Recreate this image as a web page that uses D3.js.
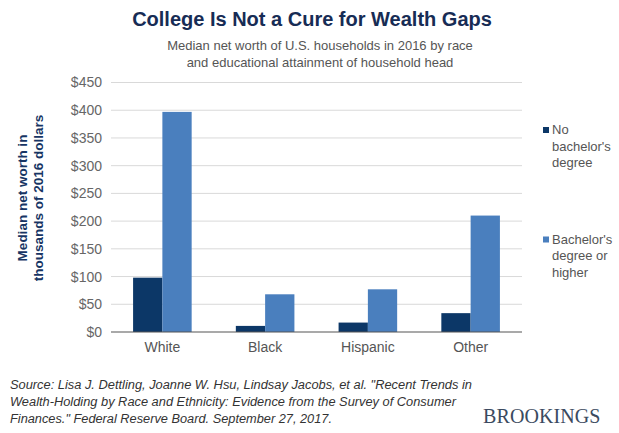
<!DOCTYPE html>
<html>
<head>
<meta charset="utf-8">
<script src="https://cdn.jsdelivr.net/npm/d3@7"></script>
<style>
  html, body { margin: 0; padding: 0; background: #fff; }
  svg { display: block; }
</style>
</head>
<body>
<svg id="chart" width="619" height="433"></svg>
<script>
// ---- data ----
const categories = ["White", "Black", "Hispanic", "Other"];
const seriesNames = ["No bachelor's degree", "Bachelor's degree or higher"];
const noBachelor = [98, 11, 17, 34];
const bachelorOrHigher = [397, 68, 77, 210];
const yTicks = [0, 50, 100, 150, 200, 250, 300, 350, 400, 450];
const legendLines = [["No", "bachelor's", "degree"], ["Bachelor's", "degree or", "higher"]];
const sourceLines = [
  "Source: Lisa J. Dettling, Joanne W. Hsu, Lindsay Jacobs, et al. \"Recent Trends in",
  "Wealth-Holding by Race and Ethnicity: Evidence from the Survey of Consumer",
  "Finances.\" Federal Reserve Board. September 27, 2017."
];

const colors = ["#0c3767", "#4a7fbe"];
const svg = d3.select("#chart");
const plot = { left: 111, right: 522, top: 82.5, bottom: 332 };

const x0 = d3.scaleBand().domain(categories).range([plot.left, plot.right]).paddingInner(0.43).paddingOuter(0.215);
const x1 = d3.scaleBand().domain([0, 1]).range([0, x0.bandwidth()]);
const y = d3.scaleLinear().domain([0, 450]).range([plot.bottom, plot.top]);

// title
svg.append("text").attr("x", 312).attr("y", 26).attr("text-anchor", "middle")
  .attr("font-family", "Liberation Sans, Arial, sans-serif").attr("font-weight", "bold")
  .attr("font-size", 20).attr("fill", "#172c55").text("College Is Not a Cure for Wealth Gaps");

const sub = ["Median net worth of U.S. households in 2016 by race", "and educational attainment of household head"];
sub.forEach((s, i) => {
  svg.append("text").attr("x", 320).attr("y", 50 + i * 17).attr("text-anchor", "middle")
    .attr("font-family", "Liberation Sans, Arial, sans-serif").attr("font-size", 13)
    .attr("fill", "#555").text(s);
});

// gridlines
svg.append("g").selectAll("line").data(yTicks.filter(d => d > 0)).join("line")
  .attr("x1", plot.left).attr("x2", plot.right)
  .attr("y1", d => y(d)).attr("y2", d => y(d))
  .attr("stroke", "#d9d9d9").attr("stroke-width", 1);

// y axis tick labels
const yAxis = d3.axisLeft(y).tickValues(yTicks).tickSize(0).tickPadding(9).tickFormat(d => "$" + d);
const gy = svg.append("g").attr("transform", `translate(${plot.left},0)`).call(yAxis);
gy.select(".domain").remove();
gy.selectAll("text").attr("font-family", "Liberation Sans, Arial, sans-serif")
  .attr("font-size", 14).attr("fill", "#666");

// bars
const groups = svg.append("g").selectAll("g").data(categories).join("g")
  .attr("transform", d => `translate(${x0(d)},0)`);
groups.selectAll("rect").data((d, i) => [noBachelor[i], bachelorOrHigher[i]]).join("rect")
  .attr("x", (d, j) => x1(j)).attr("width", x1.bandwidth())
  .attr("y", d => y(d)).attr("height", d => y(0) - y(d))
  .attr("fill", (d, j) => colors[j]);

// baseline
svg.append("line").attr("x1", plot.left).attr("x2", plot.right)
  .attr("y1", y(0)).attr("y2", y(0)).attr("stroke", "#555").attr("stroke-width", 1.2);

// x axis labels
const xAxis = d3.axisBottom(x0).tickSize(0).tickPadding(10);
const gx = svg.append("g").attr("transform", `translate(0,${plot.bottom})`).call(xAxis);
gx.select(".domain").remove();
gx.selectAll("text").attr("font-family", "Liberation Sans, Arial, sans-serif")
  .attr("font-size", 14).attr("fill", "#555");

// y axis title
["Median net worth in", "thousands of 2016 dollars"].forEach((s, i) => {
  svg.append("text").attr("transform", `translate(${27 + i * 16},198) rotate(-90)`)
    .attr("font-family", "Liberation Sans, Arial, sans-serif").attr("font-weight", "bold")
    .attr("font-size", 13.5).attr("fill", "#173564").attr("text-anchor", "middle").text(s);
});

// legend
const legendY = [134, 243.5];
legendLines.forEach((lines, k) => {
  svg.append("rect").attr("x", 543).attr("y", legendY[k] - 7).attr("width", 6).attr("height", 6).attr("fill", colors[k]);
  lines.forEach((s, i) => {
    svg.append("text").attr("x", 552).attr("y", legendY[k] + i * 16.5)
      .attr("font-family", "Liberation Sans, Arial, sans-serif").attr("font-size", 13)
      .attr("fill", "#555").text(s);
  });
});

// source
const srcLens = [462, 446, 322];
sourceLines.forEach((s, i) => {
  svg.append("text").attr("x", 10).attr("y", 389 + i * 17)
    .attr("font-family", "Liberation Sans, Arial, sans-serif").attr("font-style", "italic")
    .attr("font-size", 12).attr("fill", "#333")
    .attr("textLength", srcLens[i]).attr("lengthAdjust", "spacingAndGlyphs").text(s);
});

svg.append("text").attr("x", 483).attr("y", 423)
  .attr("font-family", "Liberation Serif, Times New Roman, serif").attr("font-size", 20)
  .attr("letter-spacing", 0.1).attr("fill", "#3b4a60").text("BROOKINGS");
</script>
</body>
</html>
